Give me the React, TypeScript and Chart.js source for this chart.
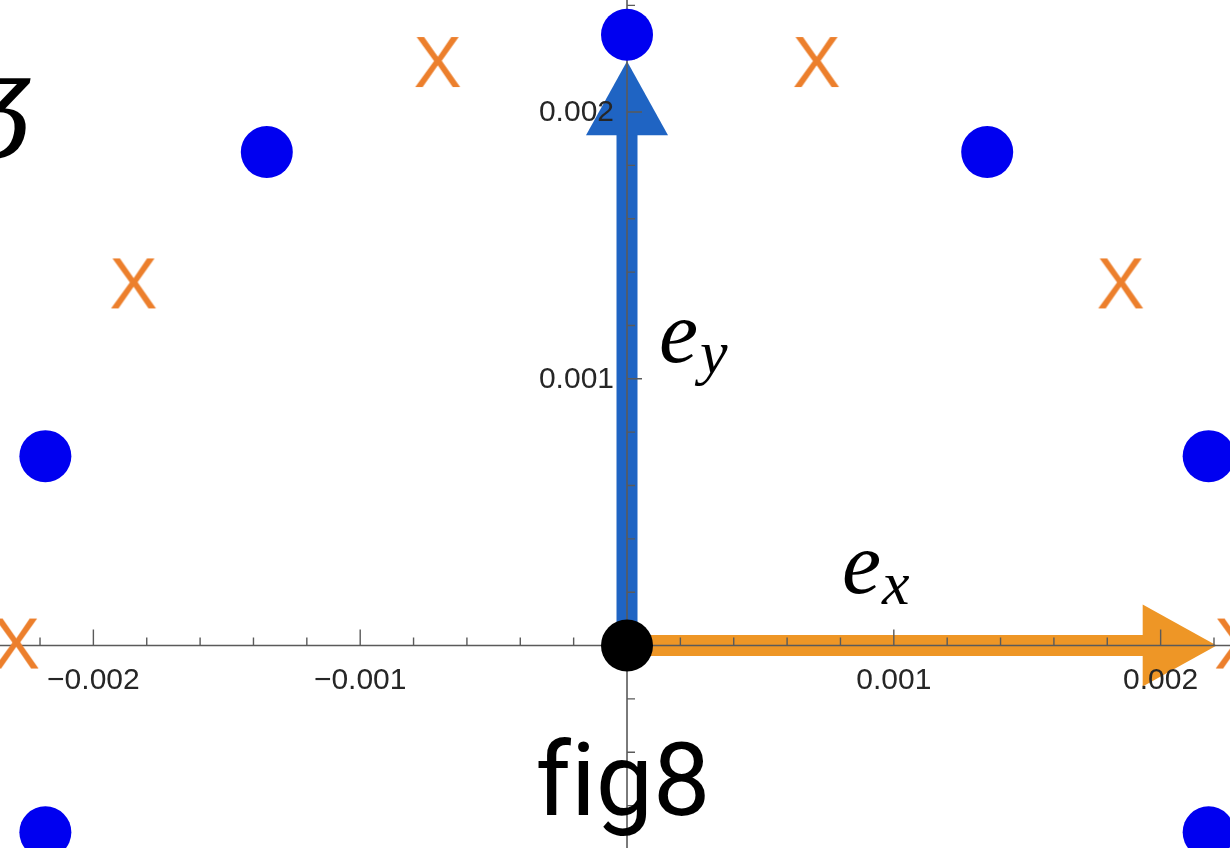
import React, { useEffect, useRef } from "react";
import { Chart, registerables } from "chart.js";

Chart.register(...registerables);

// Visible window of the plane
const xRange = [-0.00235, 0.00226];
const yRange = [-0.000759, 0.00242];

// Lattice sites: filled blue dots
const blueX = [0, -0.00135, 0.00135, -0.00218, 0.00218, -0.00218, 0.00218];
const blueY = [0.00229, 0.00185, 0.00185, 0.00071, 0.00071, -0.0007, -0.0007];

// Lattice sites: orange crosses
const crossX = [-0.00071, 0.00071, -0.00185, 0.00185, -0.00229, 0.00229];
const crossY = [0.00218, 0.00218, 0.00135, 0.00135, 0, 0];

// Origin
const originX = [0];
const originY = [0];

// Basis vectors (tip coordinates)
const exTip = [0.00221, 0];
const eyTip = [0, 0.00219];

// Axis ticks
const xTickValues = [-0.002, -0.001, 0.001, 0.002];
const xTickLabels = ["\u22120.002", "\u22120.001", "0.001", "0.002"];
const yTickValues = [0.001, 0.002];
const yTickLabels = ["0.001", "0.002"];
const minorStep = 0.0002;

const toPoints = (xs: number[], ys: number[]) => xs.map((x, i) => ({ x, y: ys[i] }));

function drawArrow(
  ctx: CanvasRenderingContext2D,
  x0: number,
  y0: number,
  x1: number,
  y1: number,
  color: string
) {
  const shaftW = 21;
  const headLen = 74;
  const headHalf = 41;
  const dx = x1 - x0;
  const dy = y1 - y0;
  const len = Math.hypot(dx, dy);
  const ux = dx / len;
  const uy = dy / len;
  const bx = x1 - ux * headLen;
  const by = y1 - uy * headLen;
  ctx.save();
  ctx.strokeStyle = color;
  ctx.fillStyle = color;
  ctx.lineWidth = shaftW;
  ctx.lineCap = "butt";
  ctx.beginPath();
  ctx.moveTo(x0, y0);
  ctx.lineTo(bx + ux * 2, by + uy * 2);
  ctx.stroke();
  ctx.beginPath();
  ctx.moveTo(x1, y1);
  ctx.lineTo(bx - uy * headHalf, by + ux * headHalf);
  ctx.lineTo(bx + uy * headHalf, by - ux * headHalf);
  ctx.closePath();
  ctx.fill();
  ctx.restore();
}

const vectorOverlay = {
  id: "vectorOverlay",
  beforeDatasetsDraw(chart: any) {
    const ctx: CanvasRenderingContext2D = chart.ctx;
    const xs = chart.scales.x;
    const ys = chart.scales.y;
    const ox = xs.getPixelForValue(0);
    const oy = ys.getPixelForValue(0);
    const { left, right, top, bottom } = chart.chartArea;

    // basis vectors
    drawArrow(ctx, ox, oy, xs.getPixelForValue(exTip[0]), ys.getPixelForValue(exTip[1]), "#ee9626");
    drawArrow(ctx, ox, oy, xs.getPixelForValue(eyTip[0]), ys.getPixelForValue(eyTip[1]), "#1f64c3");

    // axes through the origin
    ctx.save();
    ctx.strokeStyle = "#5a5a5a";
    ctx.lineWidth = 1.6;
    ctx.beginPath();
    ctx.moveTo(left, oy);
    ctx.lineTo(right, oy);
    ctx.moveTo(ox, top);
    ctx.lineTo(ox, bottom);
    ctx.stroke();

    // tick marks
    ctx.lineWidth = 1.4;
    ctx.beginPath();
    for (let k = Math.ceil(xRange[0] / minorStep); k <= Math.floor(xRange[1] / minorStep); k++) {
      if (k === 0) continue;
      const px = xs.getPixelForValue(k * minorStep);
      const len = k % 5 === 0 ? 16 : 8;
      ctx.moveTo(px, oy);
      ctx.lineTo(px, oy - len);
    }
    for (let k = Math.ceil(yRange[0] / minorStep); k <= Math.floor(yRange[1] / minorStep); k++) {
      if (k === 0) continue;
      const py = ys.getPixelForValue(k * minorStep);
      const len = k % 5 === 0 ? 15 : 8;
      ctx.moveTo(ox, py);
      ctx.lineTo(ox + len, py);
    }
    ctx.stroke();

    // tick labels
    ctx.fillStyle = "#262626";
    ctx.font = '30px "Liberation Sans", Arial, sans-serif';
    ctx.textAlign = "center";
    ctx.textBaseline = "alphabetic";
    xTickValues.forEach((v, i) => {
      ctx.fillText(xTickLabels[i], xs.getPixelForValue(v), oy + 43);
    });
    ctx.textAlign = "right";
    ctx.textBaseline = "middle";
    yTickValues.forEach((v, i) => {
      ctx.fillText(yTickLabels[i], ox - 13, ys.getPixelForValue(v) + 1);
    });
    ctx.restore();
  },
  afterDatasetsDraw(chart: any) {
    const ctx: CanvasRenderingContext2D = chart.ctx;
    ctx.save();
    ctx.fillStyle = "#000";
    ctx.textAlign = "left";
    ctx.textBaseline = "alphabetic";

    // vector names
    ctx.font = 'italic 88px "Liberation Serif", serif';
    ctx.fillText("e", 842, 593);
    ctx.fillText("e", 659, 362);
    ctx.font = 'italic 62px "Liberation Serif", serif';
    ctx.fillText("x", 882, 604);
    ctx.fillText("y", 700, 373);

    // figure caption (non-joiner keeps f and i apart)
    ctx.font = '102px Roboto, "Liberation Sans", sans-serif';
    ctx.textAlign = "center";
    ctx.fillText("f\u200Cig8", 623, 815);

    // neighbouring glyph at the top-left edge
    ctx.font = 'italic 108px "DejaVu Serif", serif';
    ctx.textAlign = "left";
    ctx.fillText("\u0292", -30, 135);
    ctx.restore();
  },
};

function makeCrossGlyph(): HTMLCanvasElement {
  const c = document.createElement("canvas");
  c.width = 72;
  c.height = 72;
  const g = c.getContext("2d")!;
  g.fillStyle = "#ec7f2c";
  g.font = '72px "Liberation Sans", Arial, sans-serif';
  g.textAlign = "center";
  g.textBaseline = "middle";
  g.fillText("X", 36, 39);
  return c;
}

export default function App() {
  const canvasRef = useRef<HTMLCanvasElement | null>(null);

  useEffect(() => {
    document.body.style.margin = "0";
    const canvas = canvasRef.current;
    if (!canvas) return;
    const crossGlyph = makeCrossGlyph();

    const chart = new Chart(canvas, {
      type: "scatter",
      data: {
        datasets: [
          {
            label: "origin",
            data: toPoints(originX, originY),
            pointRadius: 26,
            backgroundColor: "#000000",
            borderWidth: 0,
          },
          {
            label: "crosses",
            data: toPoints(crossX, crossY),
            pointStyle: crossGlyph as any,
            pointRadius: 30,
            borderWidth: 0,
          },
          {
            label: "dots",
            data: toPoints(blueX, blueY),
            pointRadius: 26,
            backgroundColor: "#0000f0",
            borderWidth: 0,
          },
        ],
      },
      options: {
        responsive: false,
        animation: false,
        events: [],
        devicePixelRatio: 1,
        layout: { padding: 0, autoPadding: false },
        plugins: {
          legend: { display: false },
          tooltip: { enabled: false },
        },
        scales: {
          x: { type: "linear", min: xRange[0], max: xRange[1], display: false },
          y: { type: "linear", min: yRange[0], max: yRange[1], display: false },
        },
      },
      plugins: [vectorOverlay],
    });

    return () => chart.destroy();
  }, []);

  return (
    <div style={{ width: 1230, height: 848, background: "#fff" }}>
      <canvas ref={canvasRef} width={1230} height={848} />
    </div>
  );
}
